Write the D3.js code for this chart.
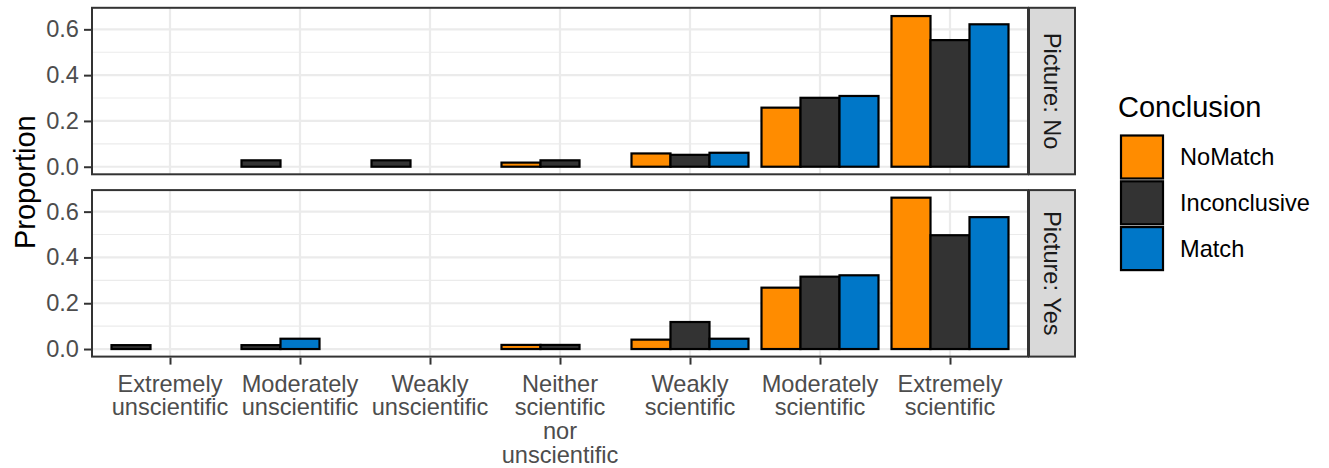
<!DOCTYPE html>
<html>
<head>
<meta charset="utf-8">
<script src="https://cdn.jsdelivr.net/npm/d3@7"></script>
<style>
  body { margin: 0; background: #fff; }
  svg { display: block; font-family: "Liberation Sans", Arial, Helvetica, sans-serif; }
</style>
</head>
<body>
<svg id="chart" width="1329" height="468"></svg>
<script>
// ---- data ----
const categories = ["Extremely unscientific", "Moderately unscientific", "Weakly unscientific",
  "Neither scientific nor unscientific", "Weakly scientific", "Moderately scientific", "Extremely scientific"];
const categoryLabels = [["Extremely","unscientific"],["Moderately","unscientific"],["Weakly","unscientific"],
  ["Neither","scientific","nor","unscientific"],["Weakly","scientific"],["Moderately","scientific"],["Extremely","scientific"]];
const groups = ["NoMatch", "Inconclusive", "Match"];
const facets = ["Picture: No", "Picture: Yes"];
const groupColors = ["#FF8C00", "#333333", "#0077C8"];
const yTicks = [0, 0.2, 0.4, 0.6];
const yMinorTicks = [0.1, 0.3, 0.5];

// Picture: No
const noMatchNo      = [null, null, null, 0.018, 0.058, 0.258, 0.658];
const inconclusiveNo = [null, 0.028, 0.028, 0.028, 0.052, 0.301, 0.553];
const matchNo        = [null, null, null, null, 0.061, 0.309, 0.622];
// Picture: Yes
const noMatchYes      = [null, null, null, 0.018, 0.041, 0.268, 0.661];
const inconclusiveYes = [0.017, 0.017, null, 0.018, 0.118, 0.316, 0.497];
const matchYes        = [null, 0.045, null, null, 0.045, 0.322, 0.576];

const facetData = [
  [noMatchNo, inconclusiveNo, matchNo],
  [noMatchYes, inconclusiveYes, matchYes]
];

// ---- layout ----
const svg = d3.select("#chart");
const panelX0 = 92, panelX1 = 1028;
const panelTops = [7.8, 190.1];
const panelH = 166.5;
const stripW = 46;
const fs = "23.6px";

const allVals = facetData.flat(2).filter(v => v != null);
const yMax = d3.max(allVals);
const pad = yMax * 0.05;
const yDomain = [-pad, yMax + pad];

const x = d3.scaleLinear().domain([-0.6, categories.length - 1 + 0.6]).range([panelX0, panelX1]);
const dodgeW = 0.9, barW = dodgeW / groups.length;

const textGray = "#4D4D4D";

facets.forEach((facet, fi) => {
  const top = panelTops[fi];
  const y = d3.scaleLinear().domain(yDomain).range([top + panelH, top]);
  const g = svg.append("g");

  g.append("rect").attr("x", panelX0).attr("y", top).attr("width", panelX1 - panelX0).attr("height", panelH).attr("fill", "#fff");

  g.selectAll(".minor").data(yMinorTicks).join("line")
    .attr("x1", panelX0).attr("x2", panelX1)
    .attr("y1", d => y(d)).attr("y2", d => y(d))
    .attr("stroke", "#EBEBEB").attr("stroke-width", 1.1);
  g.selectAll(".major").data(yTicks).join("line")
    .attr("x1", panelX0).attr("x2", panelX1)
    .attr("y1", d => y(d)).attr("y2", d => y(d))
    .attr("stroke", "#EBEBEB").attr("stroke-width", 2.2);
  g.selectAll(".vmajor").data(categories.map((c, i) => i)).join("line")
    .attr("x1", d => x(d)).attr("x2", d => x(d))
    .attr("y1", top).attr("y2", top + panelH)
    .attr("stroke", "#EBEBEB").attr("stroke-width", 2.2);

  // bars (dodge with preserve = "single": present bars fill slots from the left)
  const bars = [];
  categories.forEach((c, ci) => {
    let slot = 0;
    groups.forEach((grp, gi) => {
      const v = facetData[fi][gi][ci];
      if (v == null) return;
      bars.push({ ci, gi, v, slot });
      slot++;
    });
  });
  g.selectAll(".bar").data(bars).join("rect")
    .attr("x", d => x(d.ci - dodgeW / 2 + d.slot * barW))
    .attr("width", d => x(barW) - x(0))
    .attr("y", d => y(d.v))
    .attr("height", d => y(0) - y(d.v))
    .attr("fill", d => groupColors[d.gi])
    .attr("stroke", "#000").attr("stroke-width", 2.2);

  g.append("rect").attr("x", panelX0).attr("y", top).attr("width", panelX1 - panelX0).attr("height", panelH)
    .attr("fill", "none").attr("stroke", "#333333").attr("stroke-width", 2);

  const yAxis = d3.axisLeft(y).tickValues(yTicks).tickFormat(d3.format(".1f")).tickSize(7).tickPadding(5);
  const ya = g.append("g").attr("transform", `translate(${panelX0 - 1},0)`).call(yAxis);
  ya.select(".domain").remove();
  ya.selectAll("line").attr("stroke", "#333333").attr("stroke-width", 2);
  ya.selectAll("text").attr("fill", textGray).style("font-size", fs).style("font-family", "Liberation Sans, Arial, sans-serif");

  g.append("rect").attr("x", panelX1 + 1).attr("y", top).attr("width", stripW).attr("height", panelH)
    .attr("fill", "#D9D9D9").attr("stroke", "#333333").attr("stroke-width", 2);
  g.append("text")
    .attr("transform", `translate(${panelX1 + 1 + stripW / 2},${top + panelH / 2}) rotate(90)`)
    .attr("text-anchor", "middle").attr("dy", "0.35em")
    .attr("fill", "#1A1A1A").style("font-size", fs)
    .text(facet);

  if (fi === facets.length - 1) {
    const xAxis = d3.axisBottom(x).tickValues(categories.map((c, i) => i)).tickFormat("").tickSize(7);
    const xa = g.append("g").attr("transform", `translate(0,${top + panelH + 1})`).call(xAxis);
    xa.select(".domain").remove();
    xa.selectAll("line").attr("stroke", "#333333").attr("stroke-width", 2);
    const lab = g.selectAll(".xlab").data(categoryLabels).join("text")
      .attr("text-anchor", "middle").attr("fill", textGray).style("font-size", fs);
    lab.each(function(lines, i) {
      d3.select(this).selectAll("tspan").data(lines).join("tspan")
        .attr("x", x(i)).attr("y", (d, j) => top + panelH + 35 + j * 23.8)
        .text(d => d);
    });
  }
});

svg.append("text")
  .attr("transform", `translate(35,${(panelTops[0] + panelTops[1] + panelH) / 2}) rotate(-90)`)
  .attr("text-anchor", "middle").attr("fill", "#000").style("font-size", "29px")
  .text("Proportion");

const lg = svg.append("g");
lg.append("text").attr("x", 1118).attr("y", 116.5).attr("fill", "#000").style("font-size", "29px").text("Conclusion");
const keyH = 45.8;
lg.selectAll(".key").data(groups).join("rect")
  .attr("x", 1121).attr("y", (d, i) => 135.5 + i * keyH)
  .attr("width", 42).attr("height", 43)
  .attr("fill", (d, i) => groupColors[i]).attr("stroke", "#000").attr("stroke-width", 2.2);
lg.selectAll(".klab").data(groups).join("text")
  .attr("x", 1180).attr("y", (d, i) => 135.5 + i * keyH + 21.5).attr("dy", "0.35em")
  .attr("fill", "#000").style("font-size", fs).text(d => d);
</script>
</body>
</html>
